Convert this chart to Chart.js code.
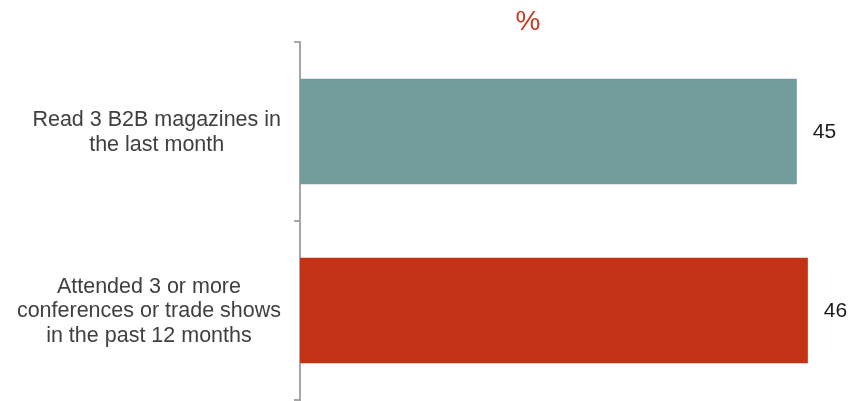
<!DOCTYPE html>
<html>
<head>
<meta charset="utf-8">
<script src="https://cdn.jsdelivr.net/npm/chart.js@4"></script>
<style>
  html, body { margin: 0; padding: 0; background: #fff; }
  #wrap { position: relative; width: 852px; height: 401px; }
  #unit {
    position: absolute; left: 528px; top: 5px; transform: translateX(-50%);
    font-family: 'Liberation Sans', Arial, sans-serif; font-size: 28px; color: #C8381E;
  }
</style>
</head>
<body>
<div id="wrap">
  <canvas id="chart" width="852" height="401"></canvas>
  <div id="unit">%</div>
</div>
<script>
const categories = [
    ['Read 3 B2B magazines in', 'the last month'],
    ['Attended 3 or more', 'conferences or trade shows', 'in the past 12 months']
];
const values = [45, 46];
const barColors = ['#739C9C', '#C33214'];

const labelFont = '21.5px "Liberation Sans", Arial, sans-serif';
const labelPitch = 24.7;

// each category label is centred on its own widest line, right edge against the axis
const categoryLabels = {
    id: 'categoryLabels',
    afterDraw(chart) {
        const ctx = chart.ctx;
        const scale = chart.scales.y;
        const right = scale.right - 19;
        ctx.save();
        ctx.font = labelFont;
        ctx.fillStyle = '#404040';
        ctx.textAlign = 'center';
        ctx.textBaseline = 'middle';
        categories.forEach((lines, i) => {
            const widest = Math.max(...lines.map(l => ctx.measureText(l).width));
            const x = right - widest / 2;
            const y0 = scale.getPixelForTick(i) + 1 - (lines.length - 1) * labelPitch / 2;
            lines.forEach((line, j) => ctx.fillText(line, x, y0 + j * labelPitch));
        });
        ctx.restore();
    }
};

const valueLabels = {
    id: 'valueLabels',
    afterDatasetsDraw(chart) {
        const ctx = chart.ctx;
        const meta = chart.getDatasetMeta(0);
        ctx.save();
        ctx.font = '21px "Liberation Sans", Arial, sans-serif';
        ctx.fillStyle = '#1a1a1a';
        ctx.textAlign = 'left';
        ctx.textBaseline = 'middle';
        meta.data.forEach((bar, i) => {
            ctx.fillText(values[i], bar.x + 16, bar.y + 1);
        });
        ctx.restore();
    }
};

const ctx = document.getElementById('chart').getContext('2d');
new Chart(ctx, {
    type: 'bar',
    data: {
        labels: categories,
        datasets: [{
            data: values,
            backgroundColor: barColors,
            barPercentage: 0.59,
            categoryPercentage: 1
        }]
    },
    options: {
        indexAxis: 'y',
        responsive: false,
        animation: false,
        layout: { padding: { top: 42, bottom: 1, left: 0, right: 0 } },
        plugins: {
            legend: { display: false },
            tooltip: { enabled: false }
        },
        scales: {
            x: {
                display: false,
                min: 0,
                max: 50
            },
            y: {
                afterFit(scale) {
                    scale.width = 300;
                    scale.paddingTop = 0;
                    scale.paddingBottom = 0;
                },
                border: { display: true, color: '#a6a6a6', width: 2 },
                grid: {
                    offset: true,
                    drawOnChartArea: false,
                    drawTicks: true,
                    tickLength: 6,
                    color: '#a6a6a6',
                    lineWidth: 2
                },
                ticks: {
                    display: false
                }
            }
        }
    },
    plugins: [valueLabels, categoryLabels]
});
</script>
</body>
</html>
